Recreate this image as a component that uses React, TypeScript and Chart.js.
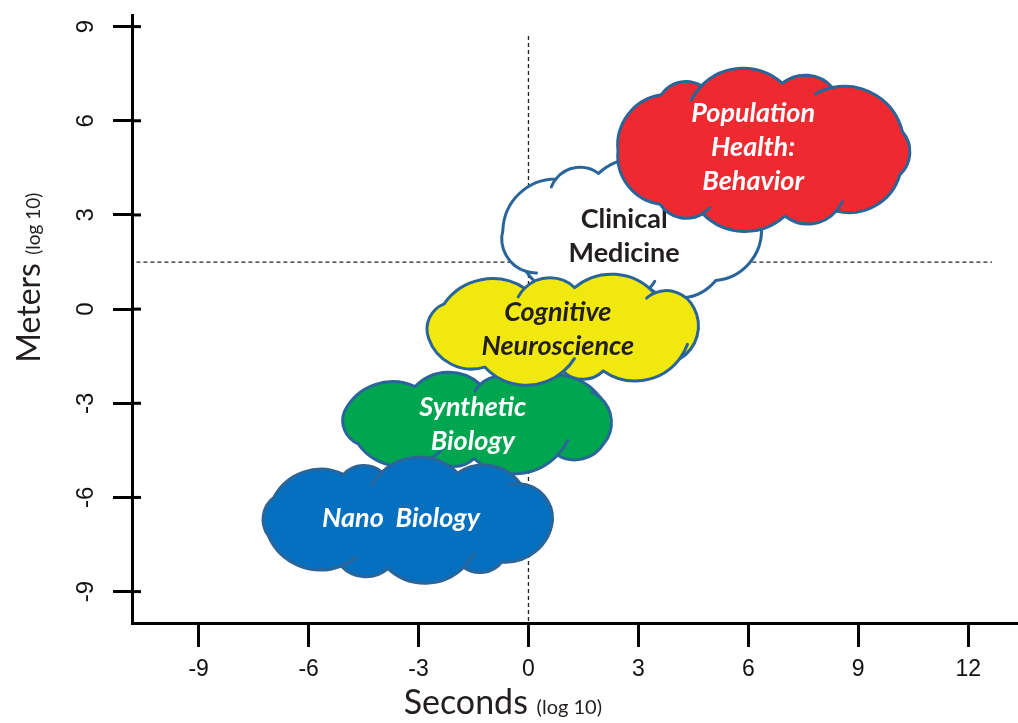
import React, { useEffect, useRef } from "react";
import { Chart, registerables } from "chart.js";

Chart.register(...registerables);

// ---------- data ----------
const X_TICKS = [-9, -6, -3, 0, 3, 6, 9, 12];
const Y_TICKS = [-9, -6, -3, 0, 3, 6, 9];
const X_MIN = -10.82;
const X_MAX = 13.36;
const Y_MIN = -10;
const Y_MAX = 9.37;

const X_TITLE = "Seconds";
const Y_TITLE = "Meters";
const UNIT_TEXT = "(log 10)";

const V_LINE_X = [0, 0];
const V_LINE_Y = [8.7, -10];
const H_LINE_X = [-10.7, 12.65];
const H_LINE_Y = [1.5, 1.5];

const CLOUD_NAMES = ["Nano Biology", "Synthetic Biology", "Cognitive Neuroscience", "Clinical Medicine", "Population Health: Behavior"];
const CLOUD_X = [-3.26, -1.3, 1.02, 2.83, 6.35];
const CLOUD_Y = [-6.73, -3.58, -0.65, 2.5, 5.08];
const CLOUD_HALF_W = [4.07, 3.93, 3.93, 3.69, 4.07];
const CLOUD_HALF_H = [1.88, 1.53, 1.69, 2.2, 2.48];
const CLOUD_LABEL_Y = [-6.73, -3.74, -0.71, 2.25, 5.08];
const CLOUD_LABELS = [["Nano  Biology"], ["Synthetic", "Biology"], ["Cognitive", "Neuroscience"], ["Clinical", "Medicine"], ["Population", "Health:", "Behavior"]];
const CLOUD_FILL = ["#0570C0", "#00A550", "#F1E90E", "#FFFFFF", "#EE2A30"];
const CLOUD_TEXT = ["#FFFFFF", "#FFFFFF", "#231F20", "#231F20", "#FFFFFF"];
const CLOUD_ITALIC = [true, true, true, false, true];
const DRAW_ORDER = [1, 3, 0, 2, 4];

// ---------- cloud geometry ----------
const JIT = [0, 0.2, -0.16, 0.1, -0.12, 0.24, -0.08, 0.16, -0.2, 0.06, 0.12, -0.22, 0.1, -0.1, 0.18, -0.14];

function buildBumps(cx: number, cy: number, rx: number, ry: number, idx: number) {
  const per0 = Math.PI * (3 * (rx + ry) - Math.sqrt((3 * rx + ry) * (rx + 3 * ry)));
  const N = Math.max(10, Math.round(per0 / 64));
  const chord0 = per0 / N;
  const bul = 0.2 * chord0;
  const ax = rx - 0.45 * bul;
  const ay = ry - 0.85 * bul;
  const ex = 2 / 2.6;
  const M = 720;
  const pts: number[][] = [];
  const cum: number[] = [0];
  for (let k = 0; k <= M; k++) {
    const t = (2 * Math.PI * k) / M;
    const c = Math.cos(t), s = Math.sin(t);
    pts.push([cx + ax * Math.sign(c) * Math.pow(Math.abs(c), ex), cy + ay * Math.sign(s) * Math.pow(Math.abs(s), ex)]);
    if (k > 0) cum.push(cum[k - 1] + Math.hypot(pts[k][0] - pts[k - 1][0], pts[k][1] - pts[k - 1][1]));
  }
  const P = cum[M];
  const step = P / N;
  const nodes: number[][] = [];
  for (let i = 0; i < N; i++) {
    let s = (i + 0.37 * idx + JIT[(i + idx * 3) % JIT.length]) * step;
    s = ((s % P) + P) % P;
    let k = 1;
    while (k < M && cum[k] < s) k++;
    const f = (s - cum[k - 1]) / Math.max(1e-9, cum[k] - cum[k - 1]);
    nodes.push([pts[k - 1][0] + f * (pts[k][0] - pts[k - 1][0]), pts[k - 1][1] + f * (pts[k][1] - pts[k - 1][1])]);
  }
  const bumps: any[] = [];
  for (let i = 0; i < N; i++) {
    const A = nodes[i];
    const B = nodes[(i + 1) % N];
    const c = Math.hypot(B[0] - A[0], B[1] - A[1]);
    const r = 0.72 * c;
    const mx = (A[0] + B[0]) / 2;
    const my = (A[1] + B[1]) / 2;
    const dx = (B[0] - A[0]) / c;
    const dy = (B[1] - A[1]) / c;
    let nx = dy, ny = -dx;
    if (nx * (mx - cx) + ny * (my - cy) < 0) { nx = -nx; ny = -ny; }
    const d = Math.sqrt(r * r - (c / 2) * (c / 2));
    const ox = mx - nx * d;
    const oy = my - ny * d;
    const a1 = Math.atan2(A[1] - oy, A[0] - ox);
    const a2 = Math.atan2(B[1] - oy, B[0] - ox);
    let delta = a2 - a1;
    while (delta > Math.PI) delta -= 2 * Math.PI;
    while (delta <= -Math.PI) delta += 2 * Math.PI;
    const vert = Math.abs(A[1] - cy) / ay;
    bumps.push({ ox, oy, r, a1, a2, ccw: delta < 0, vert });
  }
  return bumps;
}

const cloudPlugin = {
  id: "clouds",
  afterDatasetsDraw(chart: any) {
    const ctx = chart.ctx as CanvasRenderingContext2D;
    const xs = chart.scales.x;
    const ys = chart.scales.y;
    ctx.save();
    for (const idx of DRAW_ORDER) {
      const cx = xs.getPixelForValue(CLOUD_X[idx]);
      const cy = ys.getPixelForValue(CLOUD_Y[idx]);
      const rx = Math.abs(xs.getPixelForValue(CLOUD_X[idx] + CLOUD_HALF_W[idx]) - cx);
      const ry = Math.abs(ys.getPixelForValue(CLOUD_Y[idx] + CLOUD_HALF_H[idx]) - cy);
      const bumps = buildBumps(cx, cy, rx, ry, idx);
      ctx.beginPath();
      bumps.forEach((b) => ctx.arc(b.ox, b.oy, b.r, b.a1, b.a2, b.ccw));
      ctx.closePath();
      ctx.fillStyle = CLOUD_FILL[idx];
      ctx.fill();
      ctx.lineWidth = 3;
      ctx.lineJoin = "round";
      ctx.lineCap = "round";
      ctx.strokeStyle = "#2A6599";
      ctx.stroke();
      bumps.forEach((b, i) => {
        if ((i + idx) % 2 === 0 && b.vert > 0.5) {
          const sgn = b.ccw ? -1 : 1;
          ctx.beginPath();
          ctx.arc(b.ox, b.oy, b.r, b.a1 - sgn * 0.3, b.a1, b.ccw);
          ctx.stroke();
        }
      });
      // label
      const lines = CLOUD_LABELS[idx];
      const ly = ys.getPixelForValue(CLOUD_LABEL_Y[idx]);
      ctx.fillStyle = CLOUD_TEXT[idx];
      ctx.font = `${CLOUD_ITALIC[idx] ? "italic " : ""}bold 27px Lato, "Open Sans", sans-serif`;
      ctx.textAlign = "center";
      ctx.textBaseline = "middle";
      const lh = 34;
      const y0 = ly - ((lines.length - 1) * lh) / 2 - 2;
      lines.forEach((ln, j) => ctx.fillText(ln, cx - 8, y0 + j * lh));
    }
    ctx.restore();
  },
  afterDraw(chart: any) {
    const ctx = chart.ctx as CanvasRenderingContext2D;
    const ys = chart.scales.y;
    const xs = chart.scales.x;
    const area = chart.chartArea;
    ctx.save();
    // inner tick stubs on y axis
    ctx.strokeStyle = "#000";
    ctx.lineWidth = 3;
    Y_TICKS.forEach((v) => {
      const py = ys.getPixelForValue(v);
      ctx.beginPath();
      ctx.moveTo(area.left, py);
      ctx.lineTo(area.left + 9, py);
      ctx.stroke();
    });
    // x title
    ctx.fillStyle = "#231F20";
    ctx.textBaseline = "alphabetic";
    ctx.textAlign = "left";
    const bigX = '34px Lato, "Open Sans", sans-serif';
    const smallX = '20px Lato, "Open Sans", sans-serif';
    ctx.font = bigX;
    const w1 = ctx.measureText(X_TITLE + " ").width;
    ctx.font = smallX;
    const w2 = ctx.measureText(UNIT_TEXT).width;
    const xc = xs.getPixelForValue(-0.7);
    const sx = xc - (w1 + w2) / 2;
    ctx.font = bigX;
    ctx.fillText(X_TITLE + " ", sx, 714);
    ctx.font = smallX;
    ctx.fillText(UNIT_TEXT, sx + w1, 714);
    // y title
    ctx.translate(40, ys.getPixelForValue(1.0));
    ctx.rotate(-Math.PI / 2);
    const bigY = '32px Lato, "Open Sans", sans-serif';
    const smallY = '19px Lato, "Open Sans", sans-serif';
    ctx.font = bigY;
    const v1 = ctx.measureText(Y_TITLE + " ").width;
    ctx.font = smallY;
    const v2 = ctx.measureText(UNIT_TEXT).width;
    const sy = -(v1 + v2) / 2;
    ctx.font = bigY;
    ctx.fillText(Y_TITLE + " ", sy, 0);
    ctx.font = smallY;
    ctx.fillText(UNIT_TEXT, sy + v1, 0);
    ctx.restore();
  },
};

export default function App() {
  const ref = useRef<HTMLCanvasElement | null>(null);
  useEffect(() => {
    const canvas = ref.current;
    if (!canvas) return;
    const lineStyle = {
      showLine: true,
      borderColor: "#222",
      borderWidth: 1.3,
      borderDash: [4, 3],
      pointRadius: 0,
      fill: false,
    };
    const chart = new Chart(canvas, {
      type: "scatter",
      data: {
        datasets: [
          { ...lineStyle, label: "v", data: V_LINE_X.map((x, i) => ({ x, y: V_LINE_Y[i] })) },
          { ...lineStyle, label: "h", data: H_LINE_X.map((x, i) => ({ x, y: H_LINE_Y[i] })) },
          { label: "clouds", data: CLOUD_X.map((x, i) => ({ x, y: CLOUD_Y[i] })), pointRadius: 0 },
        ] as any,
      },
      options: {
        animation: false,
        responsive: false,
        maintainAspectRatio: false,
        events: [],
        layout: { padding: { top: 15, left: 0, right: 0, bottom: 0 } },
        plugins: { legend: { display: false }, tooltip: { enabled: false } },
        scales: {
          x: {
            type: "linear",
            min: X_MIN,
            max: X_MAX,
            afterBuildTicks: (s: any) => { s.ticks = X_TICKS.map((v) => ({ value: v })); },
            afterFit: (s: any) => {
              s.height = 100;
              s.paddingLeft = 0; s.paddingRight = 0; s.paddingTop = 0; s.paddingBottom = 0;
            },
            border: { display: true, color: "#000", width: 3 },
            grid: { drawOnChartArea: false, drawTicks: true, tickLength: 24, color: "#000", lineWidth: 3 },
            ticks: {
              font: { family: '"Liberation Sans", Arial, sans-serif', size: 23 },
              color: "#111",
              padding: 9,
              maxRotation: 0,
              autoSkip: false,
            },
          },
          y: {
            type: "linear",
            min: Y_MIN,
            max: Y_MAX,
            afterBuildTicks: (s: any) => { s.ticks = Y_TICKS.map((v) => ({ value: v })); },
            afterFit: (s: any) => {
              s.width = 132;
              s.paddingLeft = 0; s.paddingRight = 0; s.paddingTop = 0; s.paddingBottom = 0;
            },
            border: { display: true, color: "#000", width: 3 },
            grid: { drawOnChartArea: false, drawTicks: true, tickLength: 19, color: "#000", lineWidth: 3 },
            ticks: {
              font: { family: '"Liberation Sans", Arial, sans-serif', size: 24 },
              color: "#111",
              padding: 16,
              minRotation: 90,
              maxRotation: 90,
              crossAlign: "center",
              autoSkip: false,
            },
          },
        },
      } as any,
      plugins: [cloudPlugin],
    });
    return () => chart.destroy();
  }, []);
  return (
    <div style={{ position: "fixed", left: 0, top: 0, width: 1018, height: 723, background: "#fff" }}>
      <canvas ref={ref} width={1018} height={723} style={{ display: "block", width: 1018, height: 723 }} />
    </div>
  );
}
